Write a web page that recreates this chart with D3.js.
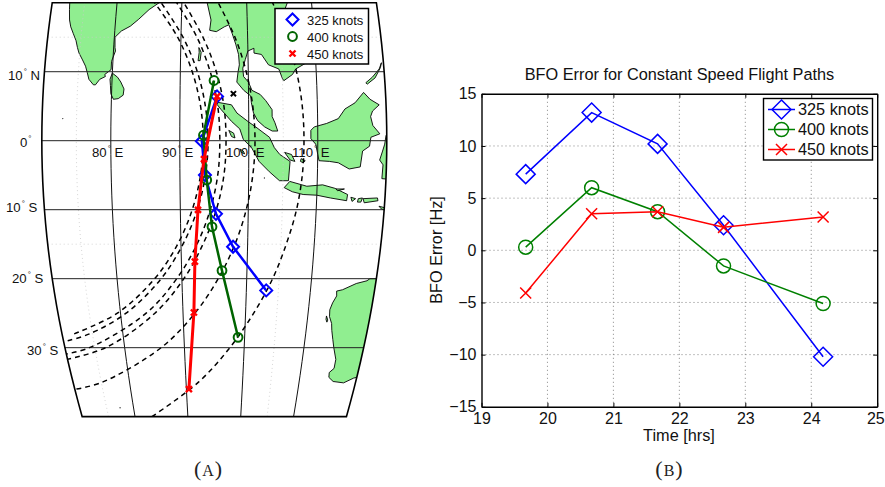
<!DOCTYPE html>
<html><head><meta charset="utf-8">
<script src="https://cdn.jsdelivr.net/npm/d3@7"></script>
<style>html,body{margin:0;padding:0;background:#fff}svg{display:block;font-family:"Liberation Sans",Arial,sans-serif}</style>
</head><body><svg id="c" width="885" height="487"></svg>
<script>
// ---------- Panel A data (lon, lat) ----------
const india=[[72.4,22],[72.7,20],[72.8,19],[73,17.5],[73.3,16.5],[73.8,15.5],[74.3,14.5],[74.6,13.5],[74.9,12.7],[75.5,11.7],[76,10.8],[76.3,9.9],[76.6,8.9],[77.3,8.1],[77.6,8.1],[78.2,8.9],[79,9.3],[78.9,9.6],[79.8,10.3],[79.8,11.5],[80.3,13],[80.2,13.5],[80.1,15],[81,15.9],[82.3,16.6],[83.5,17.6],[85,19],[86.5,20],[87,21.5],[88,22]];
const sriLanka=[[80,9.8],[80.8,9.2],[81.3,8.5],[81.8,7.5],[81.7,6.6],[81,6.1],[80.3,6],[79.9,6.8],[79.8,8],[79.7,8.9]];
const indochina=[[93.5,22],[93.9,20],[94.5,17.5],[94.3,16],[95.3,15.8],[96.5,16.5],[97.2,16.8],[97.7,15.5],[98.2,14],[98.6,12.5],[98.7,11],[98.5,10],[98.3,8.5],[99.3,7.3],[100.3,6.5],[100.4,5.5],[100.7,4],[101.3,2.9],[102.3,2],[103.4,1.4],[104.2,1.4],[103.8,2.6],[103.4,3.5],[103.4,4.5],[102.5,5.8],[101.7,6.7],[100.5,7.3],[100,8.5],[99.3,9.3],[99.2,10.5],[99.6,11.8],[100,13],[100.9,13.4],[100.9,12.7],[102,12.5],[103,11],[104.5,10.4],[105,9],[105.2,8.7],[106.5,9.6],[107,10.4],[109,11.5],[109.3,13],[109.2,15],[108,16.2],[106.6,17.8],[105.8,19],[106.5,20.5],[108,22]];
const sumatra=[[95.3,5.6],[97.5,5.2],[98.3,4],[100,2.7],[101,2],[103,0.5],[103.7,-1],[104.5,-2],[106,-3],[105.8,-5.8],[104.5,-5.8],[103,-4.5],[101.5,-3],[100.4,-1],[99.2,0.2],[98.7,1.7],[97.5,2.8],[96,4.5],[95.2,5.5]];
const borneo=[[109,1.5],[109.5,2],[111.3,2.5],[113,3.2],[114,4.6],[115.5,5.5],[116.8,7],[117.7,6],[119,5.2],[118,4.3],[117.7,3.5],[118,2.2],[119,1],[117.7,0.5],[117.5,-0.8],[116.5,-1.5],[116.2,-3.8],[114.6,-4.1],[113,-3.2],[111.7,-3],[110.2,-2.9],[109.7,-0.5],[109,0.3]];
const sulawesi=[[121,1.2],[119.9,0.8],[119.7,-0.5],[119.4,-1.5],[119,-2.8],[119.5,-3.5],[119.4,-5.5],[120.5,-5.6],[121,-3]];
const palawan=[[117.2,8.4],[118.2,9.2],[119.3,10.4],[119.7,11.3],[119.5,10.6],[118.6,9.1],[117.4,8.2]];
const java=[[105.2,-6.8],[106,-5.9],[108.5,-6.6],[110.8,-6.4],[112.6,-6.9],[114.5,-7.8],[114.4,-8.7],[112,-8.3],[110,-7.9],[108,-7.8],[106.4,-7.4]];
const madura=[[112.8,-7],[114,-7],[113,-7.25]];
const bali=[[115,-8.2],[115.7,-8.4],[115.2,-8.8]];
const lombok=[[116.1,-8.4],[116.7,-8.3],[116.5,-8.9],[116,-8.9]];
const sumbawa=[[116.8,-8.4],[118.9,-8.3],[119,-8.7],[117,-9]];
const sumba=[[119.2,-9.5],[120,-9.7],[120.5,-10.2],[119.6,-9.9]];
const bangka=[[105.2,-1.7],[106.2,-2],[106.7,-3],[106,-2.8]];
const belitung=[[107.6,-2.6],[108.2,-2.9],[107.9,-3.2],[107.5,-3]];
const nias=[[97.1,1.5],[97.8,1.1],[98,0.4],[97.5,0.6]];
const siberut=[[98.7,-1.2],[99.2,-1.5],[99.4,-1.9],[98.9,-1.7]];
const andaman=[[92.7,13.5],[93.05,12.8],[92.9,11.6],[92.6,11.6],[92.75,12.8]];
const dirkHartog=[[113,-25.4],[113.3,-26],[113.2,-26.3],[113,-25.9]];
const australia=[[119,-20],[118.6,-20.3],[117,-20.7],[115,-21.6],[114.1,-21.8],[114.2,-22.5],[113.7,-23.5],[113.4,-24.5],[113.5,-25.5],[114,-26.5],[114.2,-27.5],[114.6,-28.8],[115,-30],[115.7,-31.7],[115.7,-33],[115,-33.6],[115.1,-34.3],[116,-34.9],[117.9,-35.1],[119.5,-34.4],[122,-33.9],[124,-20]];
const landPolys=[india,sriLanka,indochina,sumatra,borneo,sulawesi,palawan,java,madura,bali,lombok,sumbawa,sumba,bangka,belitung,nias,siberut,andaman,dirkHartog,australia];
const tinyIslands=[[73,3.2],[77.5,-38.7],[102.3,-5.4]];

const arc1=[[72,-28],[79.5,-25],[85.8,-20],[89.5,-15],[91.75,-10],[93,-5],[93.4,0],[93,5],[91.75,10],[89.5,15],[85.8,20]];
const arc2=[[70.7,-29],[74.5,-28],[80.9,-25],[86.8,-20],[90.3,-15],[92.5,-10],[93.7,-5],[94.1,0],[93.7,5],[92.5,10],[90.3,15],[86.8,20]];
const arc3=[[69.4,-31],[74.1,-30],[84.1,-25],[89.2,-20],[92.4,-15],[94.4,-10],[95.5,-5],[95.8,0],[95.5,5],[94.4,10],[92.4,15],[89.2,20]];
const arc4=[[68.2,-32],[76.8,-30],[85.5,-25],[90.3,-20],[93.3,-15],[95.3,-10],[96.4,-5],[96.7,0],[96.4,5],[95.3,10],[93.3,15],[90.3,20]];
const arc5=[[70.3,-36],[75.2,-35],[86.1,-30],[91.9,-25],[95.6,-20],[98.1,-15],[99.7,-10],[100.6,-5],[100.9,0],[100.6,5],[99.7,10],[98.1,15],[95.6,20]];
const arc6=[[83.2,-40],[92.2,-35],[97.6,-30],[101.3,-25],[104,-20],[105.8,-15],[107.1,-10],[107.8,-5],[108,0],[107.8,5],[107.1,10],[105.8,15],[104,20]];
const arcs=[arc1,arc2,arc3,arc4,arc5,arc6];

const route325=[[95.4,6.42],[93.2,-0.07],[93.64,-4.98],[95.25,-10.6],[97.82,-15.37],[103.1,-21.7]];
const route400=[[94.96,8.73],[93.43,0.79],[93.9,-5.7],[94.66,-12.48],[96.18,-18.83],[98.92,-28.5]];
const route450=[[95.4,6.42],[93.5,-2.67],[92.6,-10.03],[92.05,-17.53],[91.74,-24.9],[90.45,-36]];
const lastPosition=[97.79,6.81];

const meridians=[80,90,100,110], parallels=[10,0,-10,-20,-30];
const faintMeridians=[75,105], faintParallels=[15,-15];
const lonLabels=["80","90","100","110"];
const latLabels=[["10","N"],["0",""],["10","S"],["20","S"],["30","S"]];
const speedNames=["325 knots","400 knots","450 knots"];

// ---------- Panel B data ----------
const timeHrs=[19.67,20.67,21.67,22.67,24.18];
const bfo325=[7.3,13.2,10.2,2.4,-10.2];
const bfo400=[0.3,6.0,3.7,-1.5,-5.1];
const bfo450=[-4.1,3.5,3.7,2.2,3.2];
const xTicks=[19,20,21,22,23,24,25];
const yTicks=[15,10,5,0,-5,-10,-15];
const colors=["#0000ff","#008000","#ff0000"];
const mapColors=["#0000ff","#006400","#ff0000"];

const svg=d3.select("#c");

// ---------- Panel A ----------
const sinusoidal=(l,p)=>[l*Math.cos(p),p];
sinusoidal.invert=(x,y)=>[x/Math.cos(y),y];
const proj=d3.geoProjection(sinusoidal).rotate([-95,0]).scale(395.3).translate([214.3,140.7]);
const line=d3.line(d=>proj(d)[0],d=>proj(d)[1]);
const smooth=d3.line(d=>proj(d)[0],d=>proj(d)[1]).curve(d3.curveCatmullRom);
const W=70,E=120,N=20,S=-40;
const lats=d3.range(S,N+1,2);
const framePts=[...lats.map(a=>[W,a]),...lats.slice().reverse().map(a=>[E,a])];
svg.append("clipPath").attr("id","mapclip").append("path").attr("d",line(framePts)+"Z");
const map=svg.append("g").attr("clip-path","url(#mapclip)");
map.selectAll("path.land").data(landPolys).join("path").attr("class","land")
  .attr("d",d=>line(d)+"Z").attr("fill","#90ee90").attr("stroke","#000").attr("stroke-width",0.9).attr("stroke-linejoin","round");
map.selectAll("circle.tiny").data(tinyIslands).join("circle").attr("class","tiny")
  .attr("cx",d=>proj(d)[0]).attr("cy",d=>proj(d)[1]).attr("r",0.7).attr("fill","#333");
const merLats=d3.range(S,N+1,2);
map.selectAll("path.fm").data(faintMeridians).join("path").attr("class","fm").attr("d",l=>line(merLats.map(a=>[l,a])))
  .attr("fill","none").attr("stroke","#ccc").attr("stroke-width",0.8).attr("stroke-dasharray","1 3");
map.selectAll("path.fp").data(faintParallels).join("path").attr("class","fp")
  .attr("d",a=>line([[W,a],[E,a]])).attr("fill","none").attr("stroke","#ccc").attr("stroke-width",0.8).attr("stroke-dasharray","1 3");
map.selectAll("path.mer").data(meridians).join("path").attr("class","mer").attr("d",l=>line(merLats.map(a=>[l,a])))
  .attr("fill","none").attr("stroke","#111").attr("stroke-width",1);
map.selectAll("path.par").data(parallels).join("path").attr("class","par")
  .attr("d",a=>line([[W,a],[E,a]])).attr("fill","none").attr("stroke","#222").attr("stroke-width",1);
map.selectAll("path.arc").data(arcs).join("path").attr("class","arc").attr("d",smooth)
  .attr("fill","none").attr("stroke","#000").attr("stroke-width",1.5).attr("stroke-dasharray","5 4");
svg.append("path").attr("d",line(framePts)+"Z").attr("fill","none").attr("stroke","#000").attr("stroke-width",1.6);

function diamond(g,r,col,sw){g.append("path").attr("d",`M0,${-r}L${r},0L0,${r}L${-r},0Z`).attr("fill","none").attr("stroke",col).attr("stroke-width",sw);}
function ring(g,r,col,sw){g.append("circle").attr("r",r).attr("fill","none").attr("stroke",col).attr("stroke-width",sw);}
function cross(g,r,col,sw){g.append("path").attr("d",`M${-r},${-r}L${r},${r}M${-r},${r}L${r},${-r}`).attr("fill","none").attr("stroke",col).attr("stroke-width",sw);}

const routes=[route325,route400,route450];
const routeWidths=[2.5,2.5,3];
const mapMark=[(g,c)=>diamond(g,6,c,2),(g,c)=>ring(g,4.4,c,2),(g,c)=>cross(g,3,c,2.4)];
routes.forEach((r,i)=>{
  svg.append("path").attr("d",line(r)).attr("fill","none").attr("stroke",mapColors[i]).attr("stroke-width",routeWidths[i]);
  r.forEach(p=>{const [x,y]=proj(p);mapMark[i](svg.append("g").attr("transform",`translate(${x},${y})`),mapColors[i]);});
});
{const [x,y]=proj(lastPosition);cross(svg.append("g").attr("transform",`translate(${x},${y})`),2.6,"#000",2);}

function degLabel(x,y,a,b){
  const t=svg.append("text").attr("x",x).attr("y",y).attr("font-size",13.2).attr("fill","#111");
  t.append("tspan").text(a);
  t.append("tspan").attr("font-size",8).attr("dy",-6).attr("dx",1).text("°");
  if(b)t.append("tspan").attr("dy",6).attr("dx",3.5).text(b);
}
const lonX=[92,162,226,292];
meridians.forEach((m,i)=>degLabel(lonX[i],157,lonLabels[i],"E"));
const latX=[8,20,6,12,27], latY=[80,147,212,283,355];
latLabels.forEach((l,i)=>degLabel(latX[i],latY[i],l[0],l[1]));

const lg=svg.append("g");
lg.append("rect").attr("x",275).attr("y",8.5).attr("width",93.5).attr("height",55.5).attr("fill","#fff").attr("stroke","#000").attr("stroke-width",1.5);
speedNames.forEach((n,i)=>{
  const y=20+i*17;
  mapMark[i](lg.append("g").attr("transform",`translate(292.5,${y-0.5})`),mapColors[i]);
  lg.append("text").attr("x",307).attr("y",y+4.5).attr("font-size",13).attr("fill","#111").text(n);
});

// ---------- Panel B ----------
const x=d3.scaleLinear().domain([19,25]).range([481.5,877.2]);
const y=d3.scaleLinear().domain([-15,15]).range([406.8,93.8]);
const plot=svg.append("g");
plot.selectAll("line.gx").data(xTicks.slice(1,-1)).join("line").attr("class","gx")
  .attr("x1",d=>x(d)).attr("x2",d=>x(d)).attr("y1",y(-15)).attr("y2",y(15));
plot.selectAll("line.gy").data(yTicks.slice(1,-1)).join("line").attr("class","gy")
  .attr("y1",d=>y(d)).attr("y2",d=>y(d)).attr("x1",x(19)).attr("x2",x(25));
plot.selectAll("line.gx,line.gy").attr("stroke","#777").attr("stroke-width",0.9).attr("stroke-dasharray","1 3");

const axB=plot.append("g").attr("transform",`translate(0,${y(-15)})`).call(d3.axisBottom(x).tickValues(xTicks).tickFormat(d3.format("d")).tickSizeInner(-4).tickSizeOuter(0).tickPadding(12));
const axL=plot.append("g").attr("transform",`translate(${x(19)},0)`).call(d3.axisLeft(y).tickValues(yTicks).tickFormat(d=>d<0?"\u2212"+(-d):d).tickSizeInner(-4).tickSizeOuter(0).tickPadding(5));
const axT=plot.append("g").attr("transform",`translate(0,${y(15)})`).call(d3.axisTop(x).tickValues(xTicks).tickFormat("").tickSizeInner(-4).tickSizeOuter(0));
const axR=plot.append("g").attr("transform",`translate(${x(25)},0)`).call(d3.axisRight(y).tickValues(yTicks).tickFormat("").tickSizeInner(-4).tickSizeOuter(0));
[axB,axL,axT,axR].forEach(a=>{a.attr("font-family",null);a.selectAll("text").attr("font-size",16).attr("fill","#111");a.selectAll("line").attr("stroke","#000");a.select(".domain").attr("stroke","#000").attr("stroke-width",1.4);});
axB.selectAll("text").attr("dy","0.35em");
axB.selectAll(".tick text").filter(d=>d===25).attr("text-anchor","end").attr("x",7);

const seriesList=[bfo325,bfo400,bfo450];
const bigMark=[(g,c)=>diamond(g,9.5,c,1.5),(g,c)=>ring(g,7,c,1.5),(g,c)=>cross(g,5.5,c,1.5)];
const pl=d3.line((d,i)=>x(timeHrs[i]),d=>y(d));
seriesList.forEach((s,i)=>{
  plot.append("path").attr("d",pl(s)).attr("fill","none").attr("stroke",colors[i]).attr("stroke-width",1.5);
  s.forEach((v,j)=>bigMark[i](plot.append("g").attr("transform",`translate(${x(timeHrs[j])},${y(v)})`),colors[i]));
});
const lb=plot.append("g");
lb.append("rect").attr("x",763.5).attr("y",98.5).attr("width",109).attr("height",61.5).attr("fill","#fff").attr("stroke","#000").attr("stroke-width",1.4);
speedNames.forEach((n,i)=>{
  const yy=109.5+i*20;
  lb.append("line").attr("x1",768).attr("x2",795).attr("y1",yy).attr("y2",yy).attr("stroke",colors[i]).attr("stroke-width",1.5);
  bigMark[i](lb.append("g").attr("transform",`translate(781.5,${yy})`),colors[i]);
  lb.append("text").attr("x",798).attr("y",yy+5.5).attr("font-size",16.3).attr("fill","#111").text(n);
});
svg.append("text").attr("x",679.5).attr("y",80).attr("text-anchor","middle").attr("font-size",16.3).attr("fill","#111").text("BFO Error for Constant Speed Flight Paths");
svg.append("text").attr("x",679).attr("y",441).attr("text-anchor","middle").attr("font-size",16.3).attr("fill","#111").text("Time [hrs]");
svg.append("text").attr("transform","translate(442,250) rotate(-90)").attr("text-anchor","middle").attr("font-size",16.3).attr("fill","#111").text("BFO Error [Hz]");

// captions
function caption(cx,letter){
  const t=svg.append("text").attr("x",cx).attr("y",476).attr("text-anchor","middle").attr("font-family","'Liberation Serif',serif").attr("font-size",22).attr("fill","#222");
  t.append("tspan").text("(");t.append("tspan").attr("font-size",16).attr("dx",1).text(letter);t.append("tspan").attr("dx",1).text(")");
}
caption(208,"A");caption(669,"B");
</script></body></html>
